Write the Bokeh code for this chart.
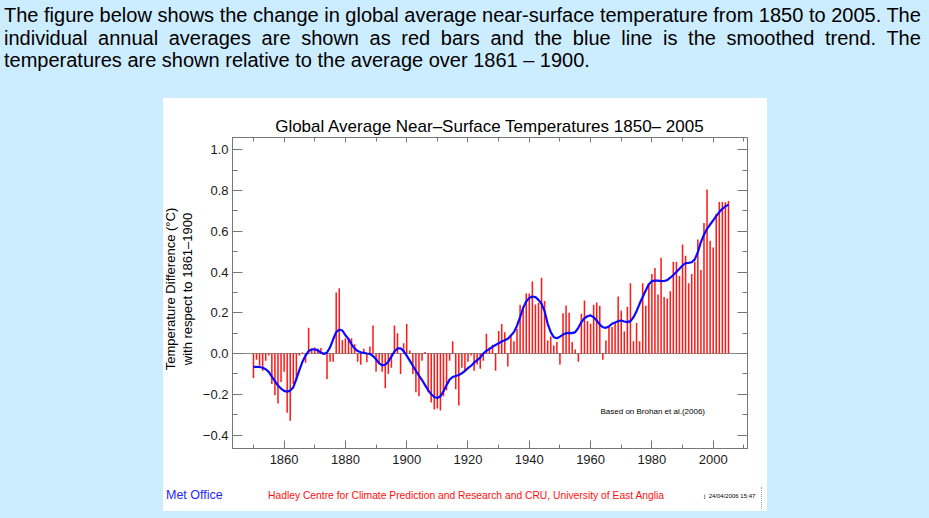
from bokeh.plotting import figure
from bokeh.layouts import column, row
from bokeh.models import (Range1d, LinearAxis, FixedTicker, CustomJSTickFormatter,
                          Span, Label, Div)
from bokeh.embed import file_html
from bokeh.resources import INLINE

# ---------------- data ----------------
years = list(range(1850, 2006))
anomaly = [
    -0.12, -0.03, -0.06, -0.085, -0.035, -0.01, -0.15, -0.205, -0.245, -0.14,   # 1850-59
    -0.09, -0.29, -0.33, -0.15, -0.13, -0.01, 0.005, -0.045, 0.126, 0.015,      # 1860-69
    0.03, 0.025, 0.027, -0.005, -0.125, -0.04, -0.04, 0.30, 0.32, 0.065,        # 1870-79
    0.075, 0.07, 0.075, 0.045, -0.04, -0.055, 0.023, -0.043, 0.034, 0.137,      # 1880-89
    -0.09, -0.05, -0.09, -0.17, -0.10, -0.07, 0.137, 0.10, -0.10, 0.05,         # 1890-99
    0.145, 0.015, -0.10, -0.19, -0.21, -0.035, 0.007, -0.19, -0.24, -0.275,     # 1900-09
    -0.27, -0.28, -0.21, -0.18, -0.035, 0.06, -0.175, -0.255, -0.07, -0.09,     # 1910-19
    -0.04, -0.01, -0.085, -0.054, -0.075, -0.035, 0.097, 0.03, 0.043, -0.084,   # 1920-29
    0.11, 0.145, 0.105, -0.064, 0.085, 0.06, 0.122, 0.239, 0.23, 0.294,         # 1930-39
    0.294, 0.353, 0.24, 0.248, 0.372, 0.258, 0.064, 0.083, 0.039, 0.056,        # 1940-49
    -0.054, 0.198, 0.236, 0.20, 0.056, 0.02, -0.04, 0.195, 0.26, 0.16,          # 1950-59
    0.146, 0.239, 0.25, 0.235, -0.03, 0.064, 0.13, 0.13, 0.15, 0.28,            # 1960-69
    0.21, 0.108, 0.23, 0.345, 0.06, 0.15, 0.06, 0.345, 0.235, 0.34,             # 1970-79
    0.39, 0.42, 0.29, 0.47, 0.277, 0.27, 0.306, 0.45, 0.45, 0.38,               # 1980-89
    0.535, 0.48, 0.345, 0.39, 0.45, 0.56, 0.41, 0.64, 0.805, 0.553,             # 1990-99
    0.52, 0.686, 0.743, 0.743, 0.742, 0.748,                                    # 2000-05
]
smoothed = [
    -0.065, -0.065, -0.066, -0.07, -0.077, -0.09, -0.113, -0.135, -0.157, -0.172,
    -0.183, -0.187, -0.182, -0.165, -0.125, -0.08, -0.04, -0.01, 0.012, 0.02,
    0.021, 0.015, 0.005, -0.002, 0.005, 0.03, 0.07, 0.105, 0.118, 0.113,
    0.09, 0.072, 0.045, 0.025, 0.012, 0.006, 0.003, 0.0, -0.002, -0.012,
    -0.028, -0.048, -0.058, -0.055, -0.04, -0.015, 0.01, 0.025, 0.026, 0.012,
    -0.01, -0.035, -0.06, -0.085, -0.108, -0.13, -0.155, -0.18, -0.2, -0.213,
    -0.218, -0.21, -0.185, -0.155, -0.128, -0.115, -0.11, -0.105, -0.097, -0.085,
    -0.072, -0.06, -0.045, -0.032, -0.02, 0.0, 0.013, 0.023, 0.033, 0.042,
    0.05, 0.059, 0.065, 0.072, 0.088, 0.105, 0.137, 0.178, 0.224, 0.255,
    0.273, 0.28, 0.277, 0.263, 0.244, 0.208, 0.146, 0.105, 0.08, 0.075,
    0.083, 0.093, 0.1, 0.101, 0.1, 0.105, 0.126, 0.154, 0.173, 0.183,
    0.187, 0.178, 0.162, 0.142, 0.129, 0.126, 0.133, 0.146, 0.152, 0.159,
    0.162, 0.157, 0.154, 0.159, 0.178, 0.208, 0.244, 0.277, 0.309, 0.34,
    0.355, 0.358, 0.358, 0.355, 0.356, 0.36, 0.372, 0.385, 0.4, 0.416,
    0.432, 0.444, 0.445, 0.448, 0.462, 0.497, 0.547, 0.583, 0.612, 0.633,
    0.653, 0.674, 0.694, 0.71, 0.722, 0.73,
]
x_major_ticks = [1860, 1880, 1900, 1920, 1940, 1960, 1980, 2000]
x_minor_ticks = [1850, 1870, 1890, 1910, 1930, 1950, 1970, 1990, 2010]
y_major_ticks = [-0.4, -0.2, 0.0, 0.2, 0.4, 0.6, 0.8, 1.0]
y_minor_ticks = [-0.3, -0.1, 0.1, 0.3, 0.5, 0.7, 0.9]

chart_title = "Global Average Near\u2013Surface Temperatures 1850\u2013 2005"
y_label_1 = "Temperature Difference (\u00b0C)"
y_label_2 = "with respect to 1861\u20131900"
credit_text = "Based on Brohan et al.(2006)"
footer_left = "Met Office"
footer_mid = "Hadley Centre for Climate Prediction and Research and CRU, University of East Anglia"
footer_right = "j  24/04/2006 15:47"
paragraph = [
    "The figure below shows the change in global average near-surface temperature from 1850 to 2005. The",
    "individual annual averages are shown as red bars and the blue line is the smoothed trend. The",
    "temperatures are shown relative to the average over 1861 \u2013 1900.",
]

# ---------------- layout ----------------
W, H = 929, 518
BG = "#ccecff"
FONT = "Liberation Sans"
PANEL_L, PANEL_T, PANEL_R = 163, 98, 767
FRAME_L = 232
YLAB_W = 35
FIG_X0 = PANEL_L + YLAB_W
FIG_W, FIG_H = PANEL_R - FIG_X0, 388
FOOT_H = 25
TICK_FS = "13px"

# paragraph (justified) as HTML
line_style = "text-align: justify; text-align-last: justify; white-space: nowrap;"
para_html = (
    f"<div style=\"font-family: '{FONT}'; font-size: 20px; line-height: 22.5px; color: #000;\">"
    f"<div style=\"{line_style}\">{paragraph[0]}</div>"
    f"<div style=\"{line_style}\">{paragraph[1]}</div>"
    f"<div style=\"text-align: left; white-space: nowrap;\">{paragraph[2]}</div>"
    "</div>"
)
para = Div(text=para_html, width=921, height=PANEL_T - 4, margin=(4, 4, 0, 4),
           styles={"overflow": "hidden"})

# rotated y-axis title, two lines, in a white strip left of the figure
rot = ("position: absolute; transform: translate(-50%, -50%) rotate(-90deg); "
       "white-space: nowrap; font-size: 13px; color: #000; line-height: 1;")
ylab_html = (
    f"<div style=\"position: relative; width: {YLAB_W}px; height: {FIG_H}px; font-family: '{FONT}';\">"
    f"<span style=\"{rot} left: {170 - PANEL_L}px; top: {289 - PANEL_T}px;\">{y_label_1}</span>"
    f"<span style=\"{rot} left: {187 - PANEL_L}px; top: {289 - PANEL_T}px;\">{y_label_2}</span>"
    "</div>"
)
ylab = Div(text=ylab_html, width=YLAB_W, height=FIG_H, margin=0,
           styles={"background-color": "white"})

p = figure(width=FIG_W, height=FIG_H, output_backend="svg", toolbar_location=None,
           x_range=Range1d(1843.16, 2011.2), y_range=Range1d(-0.466, 1.06),
           min_border_left=FRAME_L - FIG_X0, min_border_right=20,
           min_border_top=39, min_border_bottom=38, margin=0)
p.title.visible = False
p.border_fill_color = "white"
p.background_fill_color = "white"
p.outline_line_color = "#777777"
p.outline_line_width = 1
p.grid.visible = False

p.add_layout(Span(location=0, dimension="width", line_color="#8a8a8a", line_width=1, level="underlay"))

p.vbar(x=years, top=anomaly, bottom=0, width=0.5, fill_color="#ff1a1a", line_color=None)
p.line(years, smoothed, line_color="#0a0aff", line_width=2.2)

tick_col = "#777777"
minus_fmt = CustomJSTickFormatter(code="return tick.toFixed(1).replace('-', '\u2212');")
blank_fmt = CustomJSTickFormatter(code="return '';")

def style_axis(ax, major_in, minor_in):
    ax.axis_line_color = tick_col
    ax.major_tick_line_color = tick_col
    ax.minor_tick_line_color = tick_col
    ax.major_tick_in = major_in
    ax.major_tick_out = 0
    ax.minor_tick_in = minor_in
    ax.minor_tick_out = 0
    ax.major_label_text_font = FONT
    ax.major_label_text_font_size = TICK_FS
    ax.major_label_text_color = "#1a1a1a"
    ax.axis_label_text_font = FONT
    ax.axis_label_text_font_style = "normal"
    ax.axis_label_text_color = "#000000"

xa = p.xaxis[0]
xa.ticker = FixedTicker(ticks=x_major_ticks, minor_ticks=x_minor_ticks)
style_axis(xa, 8, 4)
xa.major_label_standoff = 6

ya = p.yaxis[0]
ya.ticker = FixedTicker(ticks=y_major_ticks, minor_ticks=y_minor_ticks)
ya.formatter = minus_fmt
style_axis(ya, 10, 5)
ya.major_label_standoff = 4

top_ax = LinearAxis(ticker=FixedTicker(ticks=x_major_ticks, minor_ticks=x_minor_ticks),
                    formatter=blank_fmt)
style_axis(top_ax, 5, 4)
top_ax.major_label_text_font_size = "0px"
top_ax.major_label_standoff = 0
top_ax.axis_label = chart_title
top_ax.axis_label_text_font_size = "17px"
top_ax.axis_label_standoff = 2
p.add_layout(top_ax, "above")

right_ax = LinearAxis(ticker=FixedTicker(ticks=y_major_ticks, minor_ticks=y_minor_ticks),
                      formatter=blank_fmt)
style_axis(right_ax, 10, 5)
right_ax.major_label_text_font_size = "0px"
right_ax.major_label_standoff = 0
p.add_layout(right_ax, "right")

# credit inside the frame (frame-relative screen units)
p.add_layout(Label(text=credit_text, x=600 - FRAME_L, y=448 - 415, x_units="screen", y_units="screen",
                   text_font=FONT, text_font_size="8px", text_color="#000000"))

foot_html = (
    f"<div style=\"position: relative; width: {PANEL_R - PANEL_L}px; height: {FOOT_H}px; font-family: '{FONT}'; line-height: 1;\">"
    f"<span style=\"position: absolute; left: 3px; top: 3px; font-size: 12.5px; color: #1f1fff; white-space: nowrap;\">{footer_left}</span>"
    f"<span style=\"position: absolute; left: 105px; top: 5px; font-size: 10.3px; color: #ff1010; white-space: nowrap;\">{footer_mid}</span>"
    f"<span style=\"position: absolute; left: 541px; top: 7px; font-size: 6px; color: #000; white-space: pre;\">{footer_right}</span>"
    f"<span style=\"position: absolute; left: 598px; top: 1px; height: 22px; border-left: 1px dotted #999;\"></span>"
    "</div>"
)
foot = Div(text=foot_html, width=PANEL_R - PANEL_L, height=FOOT_H, margin=(0, 0, 0, PANEL_L),
           styles={"background-color": "white"})

mid = row(ylab, p, spacing=0, margin=(0, 0, 0, PANEL_L), styles={"background-color": "white"})

root = column(para, mid, foot, width=W, height=H, spacing=0,
              styles={"background-color": BG})

open("out.html", "w").write(file_html(root, INLINE))
